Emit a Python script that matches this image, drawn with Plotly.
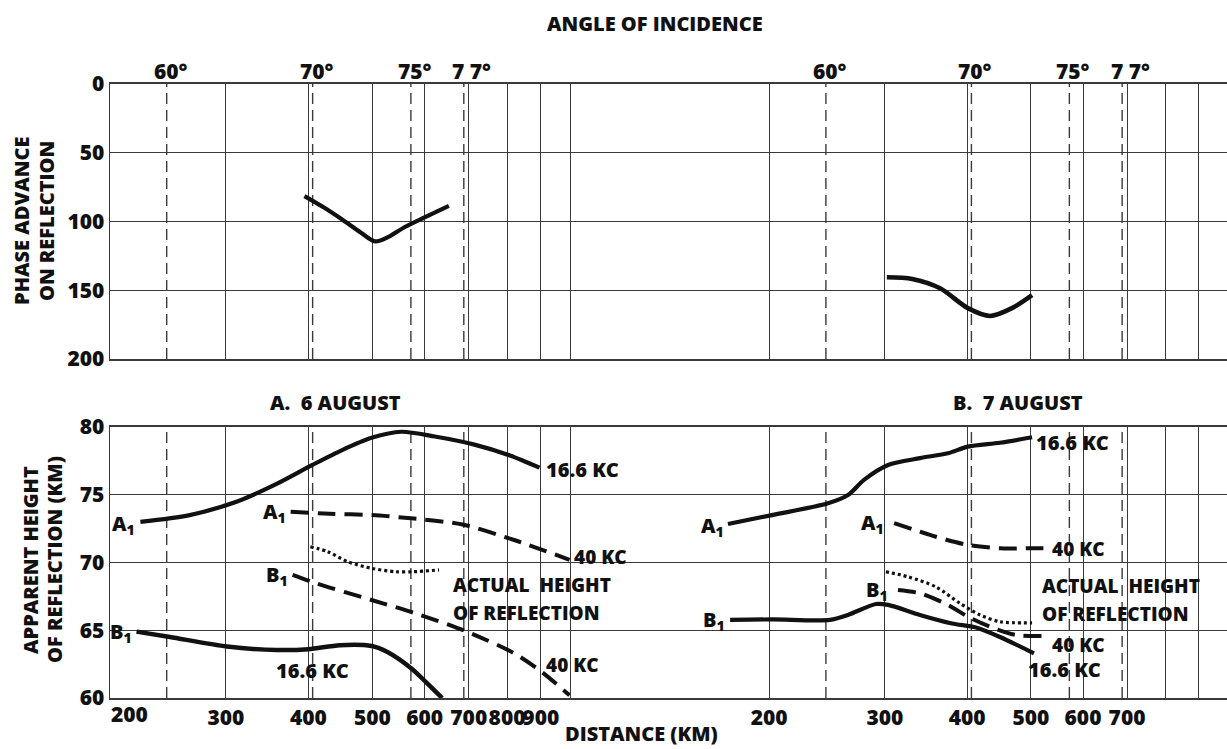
import math
import plotly.graph_objects as go

# ---------------- data ----------------
angle_labels = ["60°", "70°", "75°", "7 7°"]
angle_dist = [244, 406, 572, 688]

dist_grid_left = [200, 300, 400, 500, 600, 700, 800, 900, 1000]
dist_ticks_left = [300, 400, 500, 600, 700, 800, 900]
first_tick_label = "200"
dist_grid_right = [200, 300, 400, 500, 600, 700, 800, 900]
dist_ticks_right = [200, 300, 400, 500, 600, 700]
phase_ticks = [0, 50, 100, 150, 200]
height_ticks = [60, 65, 70, 75, 80]

# Phase advance on reflection (deg)
phaseA_dist = [394.6, 423, 450, 480, 505, 530, 560, 600, 653]
phaseA_val = [81.5, 90, 98.5, 108, 114.5, 111, 104, 97, 88.7]
phaseB_dist = [302, 330, 363.8, 401, 433.5, 467.9, 502]
phaseB_val = [140.6, 141.8, 148.6, 163, 168.7, 163, 153.5]

# A. 6 August - apparent height (km)
a_16_dist = [222.6, 264.4, 312, 358, 405.6, 450, 498.7, 553, 622, 714, 808, 896]
a_16_h = [73.0, 73.5, 74.5, 75.8, 77.2, 78.3, 79.2, 79.65, 79.3, 78.7, 77.9, 77.0]
a_40_dist = [376, 430, 498.7, 572.5, 685, 820, 995]
a_40_h = [73.75, 73.6, 73.5, 73.26, 72.8, 71.66, 70.2]
a_act_dist = [402.8, 428, 459, 498.7, 542, 577, 631]
a_act_h = [71.16, 70.8, 70.06, 69.57, 69.32, 69.32, 69.45]
b_40_dist = [378.6, 411, 498.7, 577, 695, 820, 902, 995]
b_40_h = [69.08, 68.46, 67.23, 66.3, 64.9, 63.3, 61.94, 60.2]
b_16_dist = [219.6, 246.9, 301, 358, 400, 446.6, 498.7, 527, 572.5, 605, 638]
b_16_h = [64.9, 64.5, 63.8, 63.54, 63.6, 63.9, 63.84, 63.4, 62.2, 61.1, 60.0]

# B. 7 August - apparent height (km)
ra_16_dist = [173.2, 202, 245.8, 263.6, 278.8, 303.3, 339, 374, 401, 448.7, 502]
ra_16_h = [72.84, 73.5, 74.37, 74.98, 76.1, 77.2, 77.7, 78.06, 78.55, 78.84, 79.24]
ra_40_dist = [309.8, 358.6, 401, 448.7, 502, 530]
ra_40_h = [72.9, 71.9, 71.3, 71.05, 71.05, 71.05]
rb_16_dist = [174.5, 202, 247.5, 263.6, 290.8, 303.3, 339, 379.3, 412.6, 448.7, 505.3]
rb_16_h = [65.76, 65.8, 65.76, 66.13, 66.94, 66.87, 66.13, 65.5, 65.2, 64.5, 63.3]
rb_40_dist = [314, 339, 374, 401, 436.4, 474.8, 523.4]
rb_40_h = [67.97, 67.73, 66.87, 66.0, 65.2, 64.65, 64.58]
rb_act_dist = [301, 325, 358.6, 390, 418.4, 448.7, 502]
rb_act_h = [69.32, 68.95, 68.2, 66.99, 66.13, 65.63, 65.55]

# ---------------- layout geometry ----------------
W, H = 1227, 749
FONT = "Open Sans"
WEIGHT = 800
INK = "#111111"
GRID = "#3a3a3a"

def fx(px):
    return px / W

def fy(py):
    return 1 - py / H

xl_dom = [fx(109.7), fx(571)]
xr_dom = [fx(571), 1.0]
yt_dom = [fy(359), fy(84)]
yb_dom = [fy(698), fy(427)]

fig = go.Figure()

def line(xs, ys, xa, ya, dash="solid", width=4.2):
    fig.add_trace(go.Scatter(
        x=xs, y=ys, xaxis=xa, yaxis=ya, mode="lines",
        line=dict(color=INK, width=width, dash=dash, shape="spline", smoothing=0.8),
        hoverinfo="skip", showlegend=False))

# top phase curves
line(phaseA_dist, phaseA_val, "x", "y")
line(phaseB_dist, phaseB_val, "x2", "y2", width=4.6)
# bottom-left
line(a_16_dist, a_16_h, "x3", "y3")
line(a_40_dist, a_40_h, "x3", "y3", dash="18px,9px", width=4)
line(a_act_dist, a_act_h, "x3", "y3", dash="3px,3px", width=3.2)
line(b_40_dist, b_40_h, "x3", "y3", dash="18px,9px", width=4)
line(b_16_dist, b_16_h, "x3", "y3", width=4.5)
# bottom-right
line(ra_16_dist, ra_16_h, "x4", "y4")
line(ra_40_dist, ra_40_h, "x4", "y4", dash="18px,9px", width=4)
line(rb_16_dist, rb_16_h, "x4", "y4")
line(rb_40_dist, rb_40_h, "x4", "y4", dash="18px,9px", width=4)
line(rb_act_dist, rb_act_h, "x4", "y4", dash="3px,3px", width=3.2)

tickfont = dict(family=FONT, size=21, color=INK, weight=WEIGHT)

def xaxis(dom, rng, grid, tv, labels, anchor):
    if labels:
        major = dict(tickvals=tv)
        minor_vals = [g for g in grid if g not in tv]
    else:
        major = dict(tickvals=grid)
        minor_vals = []
    ax = dict(domain=dom, type="log", range=rng, showticklabels=labels, ticks="",
              tickangle=0, showgrid=True, gridcolor=GRID, gridwidth=1.3,
              showline=True, linecolor=GRID, linewidth=1.5, mirror=True,
              zeroline=False, anchor=anchor, tickfont=tickfont, fixedrange=True,
              automargin=False, **major)
    if minor_vals:
        ax["minor"] = dict(tickvals=minor_vals, showgrid=True, gridcolor=GRID,
                           gridwidth=1.3, ticks="")
    return ax

def yaxis(dom, rng, tv, labels, anchor):
    return dict(domain=dom, range=rng, tickvals=tv, showticklabels=labels,
                ticks="", showgrid=True, gridcolor=GRID, gridwidth=1.3,
                showline=True, linecolor=GRID, linewidth=1.3, mirror=False,
                zeroline=False, anchor=anchor, fixedrange=True, automargin=False,
                tickfont=dict(family=FONT, size=21, color=INK, weight=WEIGHT))

left_rng = [math.log10(200), 3]
right_rng = [2, 2 + (W - 571) / 658]

fig.update_layout(
    width=W, height=H, autosize=False,
    margin=dict(l=0, r=0, t=0, b=0, pad=0),
    paper_bgcolor="white", plot_bgcolor="white", showlegend=False,
    font=dict(family=FONT, color=INK),
    xaxis=xaxis(xl_dom, left_rng, dist_grid_left, dist_ticks_left, False, "y"),
    yaxis=yaxis(yt_dom, [200, 0], phase_ticks, True, "x"),
    xaxis2=xaxis(xr_dom, right_rng, dist_grid_right, dist_ticks_right, False, "y2"),
    yaxis2=yaxis(yt_dom, [200, 0], phase_ticks, False, "x2"),
    xaxis3=xaxis(xl_dom, left_rng, dist_grid_left, dist_ticks_left, True, "y3"),
    yaxis3=yaxis(yb_dom, [60, 80], height_ticks, True, "x3"),
    xaxis4=xaxis(xr_dom, right_rng, dist_grid_right, dist_ticks_right, True, "y4"),
    yaxis4=yaxis(yb_dom, [60, 80], height_ticks, False, "x4"),
)

# dashed angle-of-incidence lines
shapes = []
for xa, ya in [("x", "y"), ("x2", "y2"), ("x3", "y3"), ("x4", "y4")]:
    for d in angle_dist:
        shapes.append(dict(type="line", xref=xa, yref=ya + " domain", x0=d, x1=d,
                           y0=0, y1=1, layer="below",
                           line=dict(color=GRID, width=1.4, dash="11px,6px")))
fig.update_layout(shapes=shapes)

ann = []
def text(t, x, y, xref="paper", yref="paper", size=20, xanchor="center",
         yanchor="middle", xshift=0, yshift=0, angle=0):
    if xref != "paper":
        x = math.log10(x)  # annotations on log axes take log10 positions
    ann.append(dict(text=t, x=x, y=y, xref=xref, yref=yref, showarrow=False,
                    xanchor=xanchor, yanchor=yanchor, xshift=xshift, yshift=yshift,
                    textangle=angle,
                    font=dict(family=FONT, size=size, color=INK, weight=WEIGHT)))

# first distance label sits just right of the corner, as in the original
text(first_tick_label, dist_grid_left[0], fy(714), xref="x3", size=21,
     xanchor="left", xshift=-1)

# angle labels
for xa in ["x", "x2"]:
    for lab, d in zip(angle_labels, angle_dist):
        text(lab, d, fy(71), xref=xa, size=21, xshift=(8 if lab.startswith("7 7") else 4))

text("ANGLE OF INCIDENCE", fx(655), fy(23), size=20)
text("DISTANCE (KM)", fx(641), fy(733), size=20)
text("A.  6 AUGUST", fx(335), fy(402), size=20)
text("B.  7 AUGUST", fx(1018), fy(402), size=20)
text("PHASE ADVANCE", fx(21), fy(221), size=20, angle=-90)
text("ON REFLECTION", fx(46), fy(221), size=20, angle=-90)
text("APPARENT HEIGHT", fx(30), fy(560), size=20, angle=-90)
text("OF REFLECTION (KM)", fx(54), fy(560), size=20, angle=-90)

A1 = "A<sub>1</sub>"
B1 = "B<sub>1</sub>"
# bottom-left labels
text(A1, a_16_dist[0], a_16_h[0], "x3", "y3", xanchor="right", xshift=-3, yshift=-3)
text("16.6 KC", a_16_dist[-1], a_16_h[-1], "x3", "y3", xanchor="left", xshift=4, yshift=-2)
text(A1, a_40_dist[0], a_40_h[0], "x3", "y3", xanchor="right", xshift=-3, yshift=-1)
text("40 KC", a_40_dist[-1], a_40_h[-1], "x3", "y3", xanchor="left", xshift=2, yshift=3, size=19)
text(B1, b_40_dist[0], b_40_h[0], "x3", "y3", xanchor="right", xshift=-3, yshift=-1)
text("40 KC", 910, 62.4, "x3", "y3", xanchor="left", size=19)
text(B1, b_16_dist[0], b_16_h[0], "x3", "y3", xanchor="right", xshift=-3, yshift=-1)
text("16.6 KC", 406, 62.0, "x3", "y3")
text("ACTUAL  HEIGHT", 658, 68.35, "x3", "y3", xanchor="left", size=19)
text("OF REFLECTION", 658, 66.3, "x3", "y3", xanchor="left", size=19)
# bottom-right labels
text(A1, ra_16_dist[0], ra_16_h[0], "x4", "y4", xanchor="right", xshift=-2, yshift=-2)
text("16.6 KC", ra_16_dist[-1], ra_16_h[-1], "x4", "y4", xanchor="left", xshift=2, yshift=-5)
text(A1, ra_40_dist[0], ra_40_h[0], "x4", "y4", xanchor="right", xshift=-8, yshift=0)
text("40 KC", ra_40_dist[-1], ra_40_h[-1], "x4", "y4", xanchor="left", xshift=2, yshift=-1, size=19)
text(B1, rb_16_dist[0], rb_16_h[0], "x4", "y4", xanchor="right", xshift=-3, yshift=-1)
text("16.6 KC", 491.5, 62.14, "x4", "y4", xanchor="left")
text(B1, rb_40_dist[0], rb_40_h[0], "x4", "y4", xanchor="right", xshift=-8, yshift=0)
text("40 KC", 534.5, 63.9, "x4", "y4", xanchor="left", size=19)
text("ACTUAL  HEIGHT", 516, 68.3, "x4", "y4", xanchor="left", size=19)
text("OF REFLECTION", 516, 66.2, "x4", "y4", xanchor="left", size=19)

fig.update_layout(annotations=ann)
fig.write_html(
    "out.html",
    post_script="document.body.style.margin='0px';document.body.style.overflow='hidden';",
)
